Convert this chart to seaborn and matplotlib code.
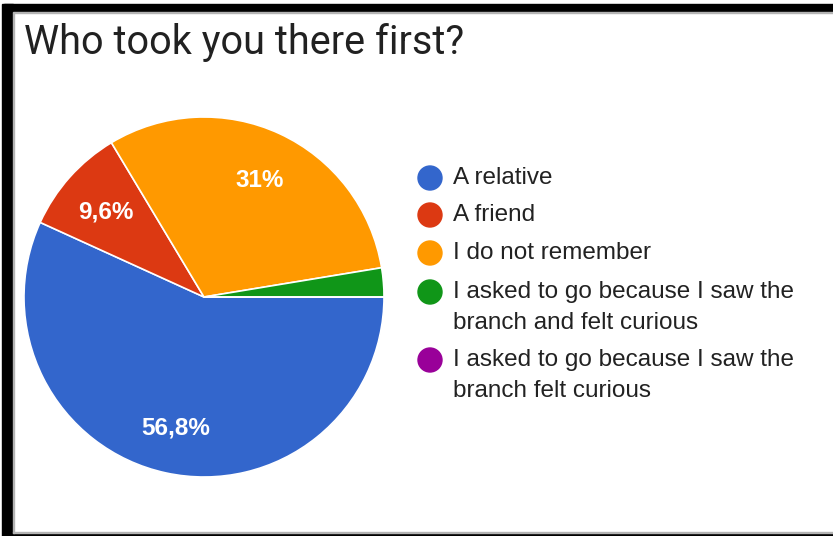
import numpy as np
import matplotlib
matplotlib.use("Agg")
import matplotlib.pyplot as plt
import matplotlib.transforms as mtransforms
import seaborn as sns
from matplotlib.patches import Rectangle, Ellipse

sns.set_theme(style="white")
plt.rcParams['font.family'] = ['Liberation Sans', 'DejaVu Sans']

title = "Who took you there first?"
categories = [
    "A relative",
    "A friend",
    "I do not remember",
    "I asked to go because I saw the\nbranch and felt curious",
    "I asked to go because I saw the\nbranch felt curious",
]
shares = [56.8, 9.6, 31.0, 2.6, 0.0]
slice_labels = ["56,8%", "9,6%", "31%", "", ""]
colors = ["#3366CC", "#DC3912", "#FF9900", "#109618", "#990099"]

W, H = 833, 536
fig = plt.figure(figsize=(W / 100, H / 100), dpi=100)
fig.patch.set_facecolor("white")


def fx(px):
    return px / W


def fy(py):
    return 1 - py / H


# pie axes: centre (204, 297), radius 180 px
cx, cy, r = 204, 297, 180
ax = fig.add_axes([fx(cx - r), fy(cy + r), 2 * r / W, 2 * r / H])
wedges, _ = ax.pie(shares, colors=colors, startangle=0, counterclock=False,
                   radius=1.0,
                   wedgeprops=dict(edgecolor="white", linewidth=1.2))
ax.set_xlim(-1, 1)
ax.set_ylim(-1, 1)
ax.set_aspect("equal")
ax.axis("off")

# percentage labels, digits centred on the wedge's mid-angle
label_size = 17.5
trans = mtransforms.offset_copy(ax.transData, fig=fig, x=0,
                                y=-0.36 * label_size, units="points")
for w, lab in zip(wedges, slice_labels):
    if not lab:
        continue
    mid = np.deg2rad((w.theta1 + w.theta2) / 2)
    ax.text(0.73 * np.cos(mid), 0.73 * np.sin(mid), lab, color="white",
            fontsize=label_size, fontweight="bold", ha="center",
            va="baseline", transform=trans)

# title
fig.text(fx(24), fy(42), title, fontsize=28.5, color="#212121",
         ha="left", va="center", family=["Roboto", "DejaVu Sans"])

# legend
legend_y = [178, 215, 253, 292, 360]
for y, lab, col in zip(legend_y, categories, colors):
    fig.patches.append(Ellipse((fx(430), fy(y)), 24 / W, 24 / H,
                               transform=fig.transFigure, color=col,
                               figure=fig))
    for i, line in enumerate(lab.split("\n")):
        fig.text(fx(453), fy(y + i * 31), line, fontsize=17.5, color="#222222",
                 ha="left", va="center")

# frame around the chart
black = "#000000"
grey = "#b4b4b4"
fig.patches.append(Rectangle((fx(4), fy(12)), 1 - fx(4), 8 / H,
                             transform=fig.transFigure, color=black, figure=fig))
fig.patches.append(Rectangle((fx(2), 0), 11 / W, fy(4),
                             transform=fig.transFigure, color=black, figure=fig))
fig.patches.append(Rectangle((fx(4), 0), 1 - fx(4), 3 / H,
                             transform=fig.transFigure, color=black, figure=fig))
fig.patches.append(Rectangle((fx(13), fy(13)), 1 - fx(13), 1 / H,
                             transform=fig.transFigure, color=grey, figure=fig))
fig.patches.append(Rectangle((fx(13), fy(533)), 1 - fx(13), 1 / H,
                             transform=fig.transFigure, color=grey, figure=fig))
fig.patches.append(Rectangle((fx(13), fy(533)), 1 / W, fy(13) - fy(533),
                             transform=fig.transFigure, color=grey, figure=fig))

fig.savefig("out.png", dpi=100, facecolor="white")
